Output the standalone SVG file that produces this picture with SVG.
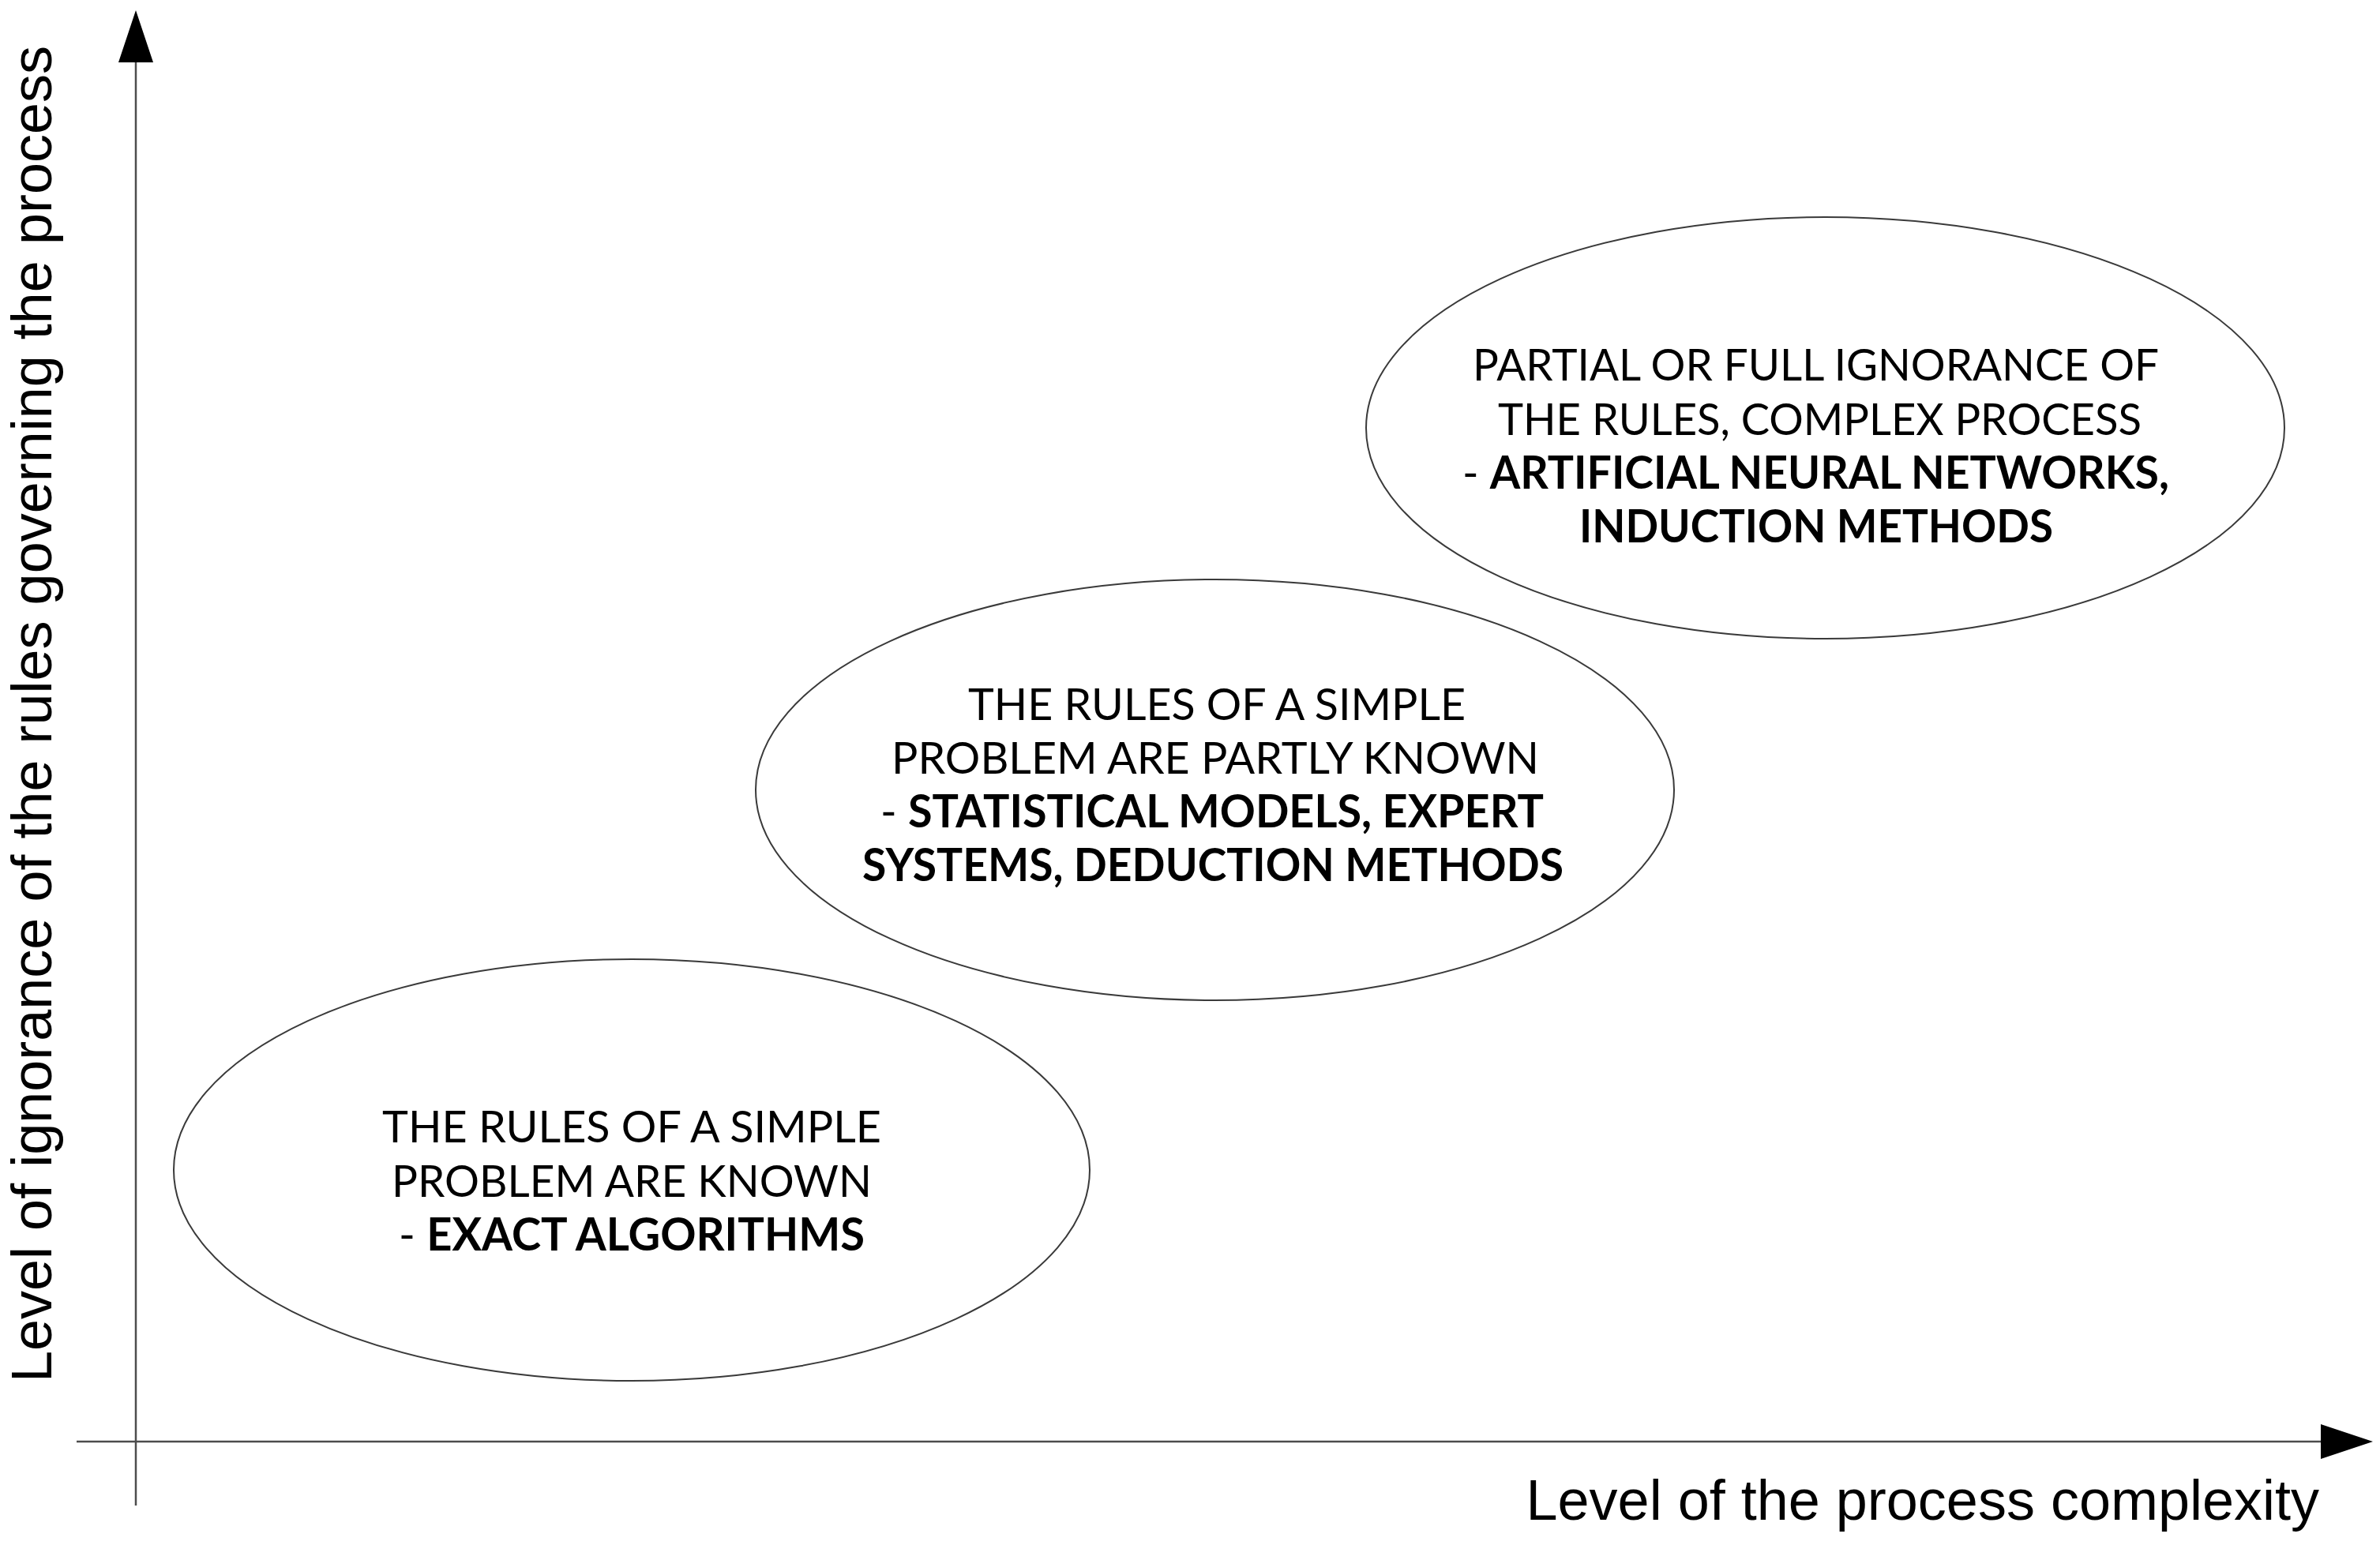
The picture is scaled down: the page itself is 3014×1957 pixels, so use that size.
<svg xmlns="http://www.w3.org/2000/svg" width="3014" height="1957" viewBox="0 0 3014 1957">
<style>
.axis{stroke:#4d4d4d;stroke-width:2.5;fill:none}
.node{fill:#ffffff;stroke:#3a3a3a;stroke-width:2}
.lbl{font-family:"Liberation Sans",Arial,sans-serif;font-size:72px;fill:#000}
.t{font-family:Lato,"Open Sans",sans-serif;font-size:57px;fill:#000}
.b{font-weight:bold}
</style>
<defs>
<marker id="arr" markerUnits="userSpaceOnUse" markerWidth="66" markerHeight="44" refX="0" refY="22" orient="auto" viewBox="0 0 66 44">
<path d="M0,0 L66,22 L0,44 Z" fill="#000"/>
</marker>
</defs>
<rect width="3014" height="1957" fill="#fff"/>
<g id="connectors">
<line class="axis" x1="172" y1="1907" x2="172" y2="79" marker-end="url(#arr)"/>
<line class="axis" x1="97" y1="1826" x2="2939" y2="1826" marker-end="url(#arr)"/>
</g>
<g id="axis-labels">
<text class="lbl" transform="translate(65,904.5) rotate(-90)" text-anchor="middle">Level of ignorance of the rules governing the process</text>
<text class="lbl" x="2937" y="1925" text-anchor="end">Level of the process complexity</text>
</g>
<g id="node-exact">
<ellipse class="node" cx="800" cy="1482" rx="580" ry="267"/>
<text class="t" x="484" y="1447" textLength="632" lengthAdjust="spacingAndGlyphs">THE RULES OF A SIMPLE</text>
<text class="t" x="496" y="1515.5" textLength="608" lengthAdjust="spacingAndGlyphs">PROBLEM ARE KNOWN</text>
<text class="t" x="505" y="1584" textLength="590" lengthAdjust="spacingAndGlyphs">- <tspan class="b">EXACT ALGORITHMS</tspan></text>
</g>
<g id="node-statistical">
<ellipse class="node" cx="1538.5" cy="1000.5" rx="581.5" ry="266.5"/>
<text class="t" x="1226" y="912" textLength="630" lengthAdjust="spacingAndGlyphs">THE RULES OF A SIMPLE</text>
<text class="t" x="1129" y="980" textLength="820" lengthAdjust="spacingAndGlyphs">PROBLEM ARE PARTLY KNOWN</text>
<text class="t" x="1115" y="1048" textLength="840" lengthAdjust="spacingAndGlyphs">- <tspan class="b">STATISTICAL MODELS, EXPERT</tspan></text>
<text class="t b" x="1092" y="1116" textLength="888" lengthAdjust="spacingAndGlyphs">SYSTEMS, DEDUCTION METHODS</text>
</g>
<g id="node-neural">
<ellipse class="node" cx="2311.5" cy="542" rx="581.5" ry="267"/>
<text class="t" x="1865" y="482" textLength="869" lengthAdjust="spacingAndGlyphs">PARTIAL OR FULL IGNORANCE OF</text>
<text class="t" x="1897" y="550.5" textLength="815" lengthAdjust="spacingAndGlyphs">THE RULES, COMPLEX PROCESS</text>
<text class="t" x="1852" y="618.5" textLength="895" lengthAdjust="spacingAndGlyphs">- <tspan class="b">ARTIFICIAL NEURAL NETWORKS,</tspan></text>
<text class="t b" x="2000" y="687" textLength="600" lengthAdjust="spacingAndGlyphs">INDUCTION METHODS</text>
</g>
</svg>
